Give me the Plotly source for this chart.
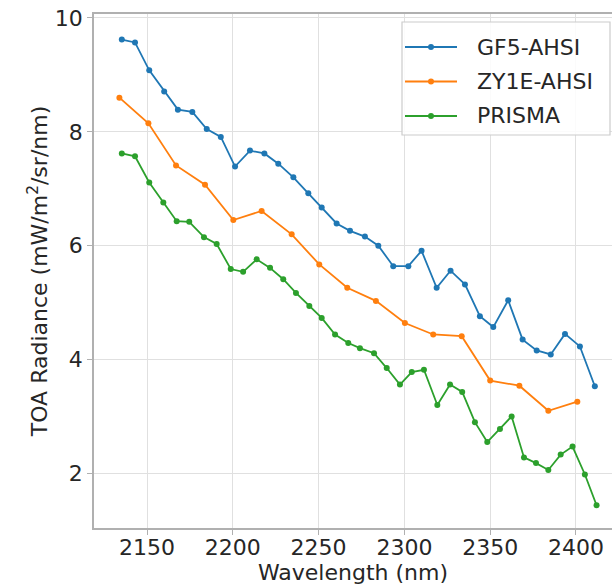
import plotly.graph_objects as go

gf5_x = [2135.3, 2143.0, 2151.3, 2160.0, 2168.0, 2176.4, 2184.8, 2193.0, 2201.3, 2210.0,
         2218.4, 2226.5, 2235.3, 2244.0, 2251.8, 2260.5, 2268.3, 2277.0, 2284.8, 2293.5,
         2302.3, 2310.0, 2318.8, 2326.9, 2335.3, 2344.0, 2351.8, 2360.5, 2368.9, 2377.1,
         2385.3, 2393.6, 2402.3, 2411.0]
gf5_y = [9.62, 9.57, 9.08, 8.71, 8.39, 8.35, 8.05, 7.91, 7.39, 7.67,
         7.62, 7.44, 7.20, 6.92, 6.67, 6.39, 6.26, 6.16, 6.00, 5.64,
         5.64, 5.91, 5.26, 5.56, 5.32, 4.76, 4.57, 5.04, 4.35, 4.16,
         4.09, 4.45, 4.23, 3.53]

zy1e_x = [2133.9, 2150.8, 2166.9, 2183.8, 2200.3, 2216.8, 2234.3, 2250.4, 2266.7,
          2283.4, 2300.3, 2316.8, 2333.4, 2350.0, 2367.0, 2383.9, 2400.8]
zy1e_y = [8.60, 8.15, 7.41, 7.07, 6.45, 6.61, 6.20, 5.67, 5.26,
          5.03, 4.64, 4.44, 4.41, 3.63, 3.54, 3.10, 3.26]

prisma_x = [2135.3, 2143.0, 2151.3, 2159.5, 2167.3, 2174.6, 2183.2, 2190.6, 2198.8, 2206.0,
            2213.9, 2221.7, 2229.4, 2236.8, 2244.6, 2251.8, 2259.6, 2267.3, 2274.1, 2282.3,
            2289.7, 2297.4, 2304.3, 2311.4, 2319.2, 2326.6, 2333.7, 2341.1, 2348.3, 2355.7,
            2362.5, 2369.7, 2376.7, 2383.9, 2391.1, 2398.0, 2405.2, 2412.0]
prisma_y = [7.62, 7.57, 7.11, 6.76, 6.43, 6.42, 6.15, 6.03, 5.59, 5.54,
            5.76, 5.61, 5.41, 5.17, 4.94, 4.73, 4.44, 4.29, 4.20, 4.11,
            3.85, 3.56, 3.78, 3.82, 3.20, 3.56, 3.43, 2.90, 2.55, 2.78,
            3.00, 2.28, 2.18, 2.06, 2.33, 2.47, 1.98, 1.44]

series_names = ["GF5-AHSI", "ZY1E-AHSI", "PRISMA"]
series_colors = ["#1f77b4", "#ff7f0e", "#2ca02c"]
x_ticks = [2150, 2200, 2250, 2300, 2350, 2400]
y_ticks = [2, 4, 6, 8, 10]

font_family = "DejaVu Sans"
text_color = "#262626"
axis_color = "#b0b0b0"

# figure geometry (page body margin removed by post_script below)
W, H = 612, 586
ML, MR, MT, MB = 94, 0, 14, 58
PW, PH = W - ML - MR, H - MT - MB


def px2paper(x, y):
    """pixel inside the figure -> paper coordinates"""
    return (x - ML) / PW, (H - MB - y) / PH


fig = go.Figure()
for name, xs, ys, col in zip(series_names, [gf5_x, zy1e_x, prisma_x],
                             [gf5_y, zy1e_y, prisma_y], series_colors):
    fig.add_trace(go.Scatter(
        x=xs, y=ys, name=name, mode="lines+markers",
        line=dict(color=col, width=1.8),
        marker=dict(color=col, size=6),
        showlegend=False,
    ))

# hand-built legend (matplotlib style)
shapes = []
annotations = []
bx0, by0 = px2paper(402, 22)
bx1, by1 = px2paper(610, 135)
shapes.append(dict(type="rect", xref="paper", yref="paper",
                   x0=bx0, y0=by1, x1=bx1, y1=by0,
                   line=dict(color="#cccccc", width=1.2),
                   fillcolor="rgba(255,255,255,0.85)", layer="above"))
for i, (name, col) in enumerate(zip(series_names, series_colors)):
    yy = 47 + i * 34.5
    lx0, ly = px2paper(405, yy)
    lx1, _ = px2paper(457, yy)
    mx, _ = px2paper(431, yy)
    tx, _ = px2paper(475, yy)
    shapes.append(dict(type="line", xref="paper", yref="paper",
                       x0=lx0, x1=lx1, y0=ly, y1=ly,
                       line=dict(color=col, width=1.8), layer="above"))
    shapes.append(dict(type="circle", xref="paper", yref="paper",
                       xsizemode="pixel", ysizemode="pixel",
                       xanchor=mx, yanchor=ly, x0=-3, x1=3, y0=-3, y1=3,
                       fillcolor=col, line=dict(color=col, width=0), layer="above"))
    annotations.append(dict(x=tx, y=ly, xref="paper", yref="paper",
                            text=name, showarrow=False, xanchor="left", yanchor="middle",
                            font=dict(family=font_family, size=22, color=text_color)))

fig.update_layout(
    width=W, height=H,
    margin=dict(l=ML, r=MR, t=MT, b=MB, autoexpand=False),
    paper_bgcolor="white", plot_bgcolor="white",
    font=dict(family=font_family, size=22, color=text_color),
    showlegend=False,
    shapes=shapes,
    annotations=annotations,
)

fig.update_xaxes(
    range=[2119.1, 2421.0],
    tickvals=x_ticks, ticktext=[str(v) for v in x_ticks],
    showgrid=True, gridcolor="#e0e0e0", gridwidth=1,
    showline=True, linecolor=axis_color, linewidth=1.5, mirror=True,
    ticks="outside", ticklen=5, tickcolor=axis_color,
    ticklabelstandoff=-6, ticklabeloverflow="allow",
    zeroline=False, automargin=False,
    title=dict(text="Wavelength (nm)", standoff=3, font=dict(size=22)),
    tickfont=dict(size=22),
)
fig.update_yaxes(
    range=[1.04, 10.07],
    tickvals=y_ticks, ticktext=[str(v) for v in y_ticks],
    showgrid=True, gridcolor="#e0e0e0", gridwidth=1,
    showline=True, linecolor=axis_color, linewidth=1.5, mirror=False,
    ticks="outside", ticklen=5, tickcolor=axis_color,
    ticklabeloverflow="allow",
    zeroline=False, automargin=False,
    title=dict(text="TOA Radiance (mW/m<sup>2</sup>/sr/nm)", standoff=1, font=dict(size=22)),
    tickfont=dict(size=22),
)

fig.write_html("out.html",
               config={"displayModeBar": False},
               post_script="document.body.style.margin='0px';document.body.style.overflow='hidden';")
